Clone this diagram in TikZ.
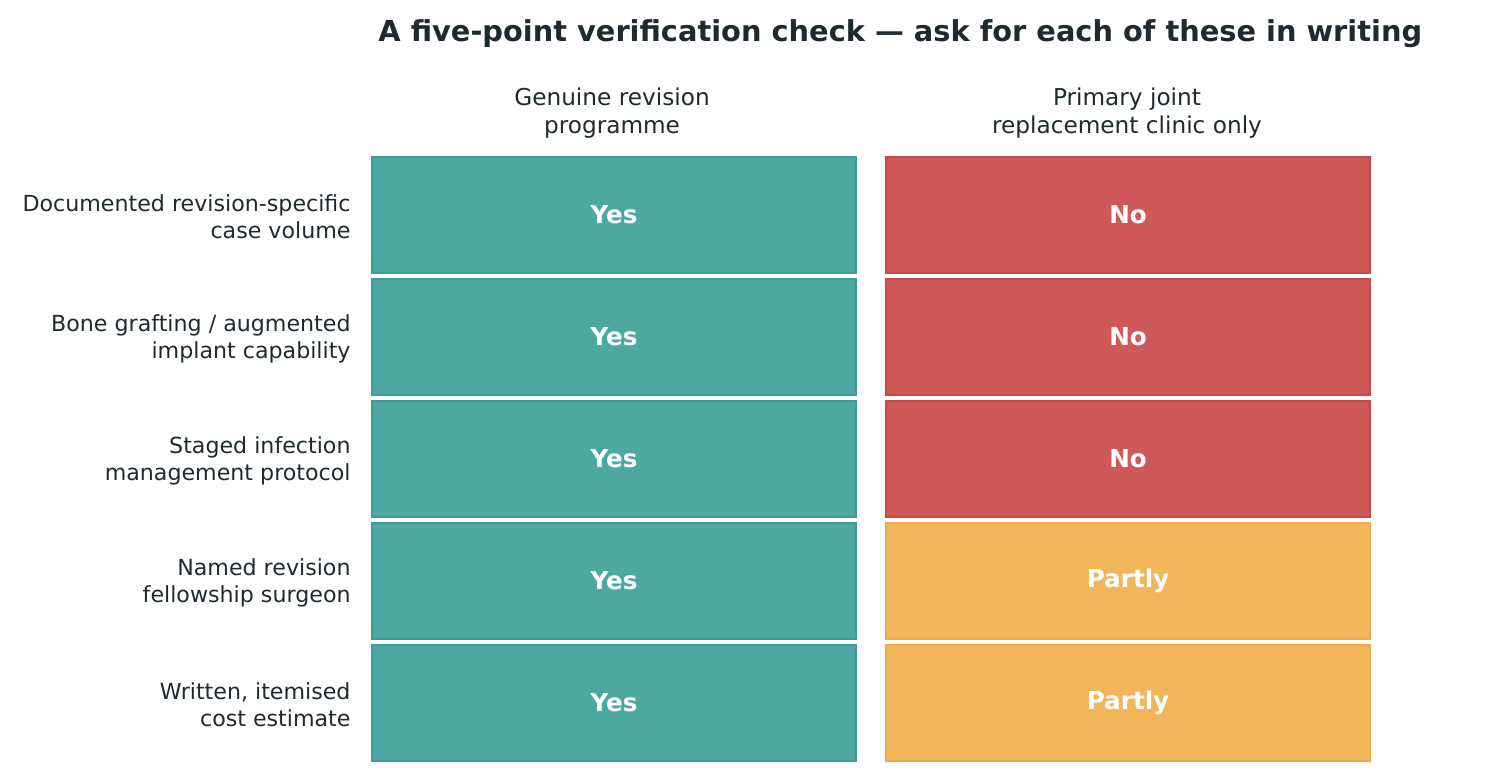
\documentclass[tikz,border=0pt]{standalone}
\usepackage{fontspec}
\setmainfont{DejaVu Sans}
\usepackage{xcolor}
\definecolor{yescell}{HTML}{4DA8A0}
\definecolor{yesedge}{HTML}{3A9E94}
\definecolor{nocell}{HTML}{CF5858}
\definecolor{noedge}{HTML}{C94848}
\definecolor{partcell}{HTML}{F2B55A}
\definecolor{partedge}{HTML}{F2AD4A}
\definecolor{ink}{HTML}{1F2A2E}
\tikzset{
  cell/.style={draw, line width=0.5pt, minimum width=4.84cm, minimum height=1.16cm, anchor=north west, inner sep=0pt,
    text=white, font=\fontsize{7}{8}\selectfont\bfseries},
  yes/.style={cell, fill=yescell, draw=yesedge},
  no/.style={cell, fill=nocell, draw=noedge},
  part/.style={cell, fill=partcell, draw=partedge},
  rowlabel/.style={anchor=east, align=right, text=ink, font=\fontsize{6.3}{7.6}\selectfont},
  colhead/.style={align=center, text=ink, font=\fontsize{6.6}{8}\selectfont},
}
\begin{document}
	\begin{tikzpicture}[x=0.01cm,y=-0.01cm]
		\useasboundingbox (0,0) rectangle (1494,779);
		\node (title) [anchor=west, text=ink, font=\fontsize{8.2}{9}\selectfont\bfseries] at (366,34) {A five-point verification check — ask for each of these in writing};
		%
		\node (head-genuine) [colhead] at (612,113) {Genuine revision\\programme};
		\node (head-primary) [colhead] at (1127,113) {Primary joint\\replacement clinic only};
		%
		\node (genuine-1) [yes] at (371,156) {Yes};
		\node (genuine-2) [yes] at (371,278) {Yes};
		\node (genuine-3) [yes] at (371,400) {Yes};
		\node (genuine-4) [yes] at (371,522) {Yes};
		\node (genuine-5) [yes] at (371,644) {Yes};
		%
		\node (primary-1) [no] at (885,156) {No};
		\node (primary-2) [no] at (885,278) {No};
		\node (primary-3) [no] at (885,400) {No};
		\node (primary-4) [part] at (885,522) {Partly};
		\node (primary-5) [part] at (885,644) {Partly};
		%
		\node (label-1) [rowlabel] at (363,217) {Documented revision-specific\\case volume};
		\node (label-2) [rowlabel] at (363,339) {Bone grafting / augmented\\implant capability};
		\node (label-3) [rowlabel] at (363,461) {Staged infection\\management protocol};
		\node (label-4) [rowlabel] at (363,583) {Named revision\\fellowship surgeon};
		\node (label-5) [rowlabel] at (363,705) {Written, itemised\\cost estimate};
	\end{tikzpicture}
\end{document}
